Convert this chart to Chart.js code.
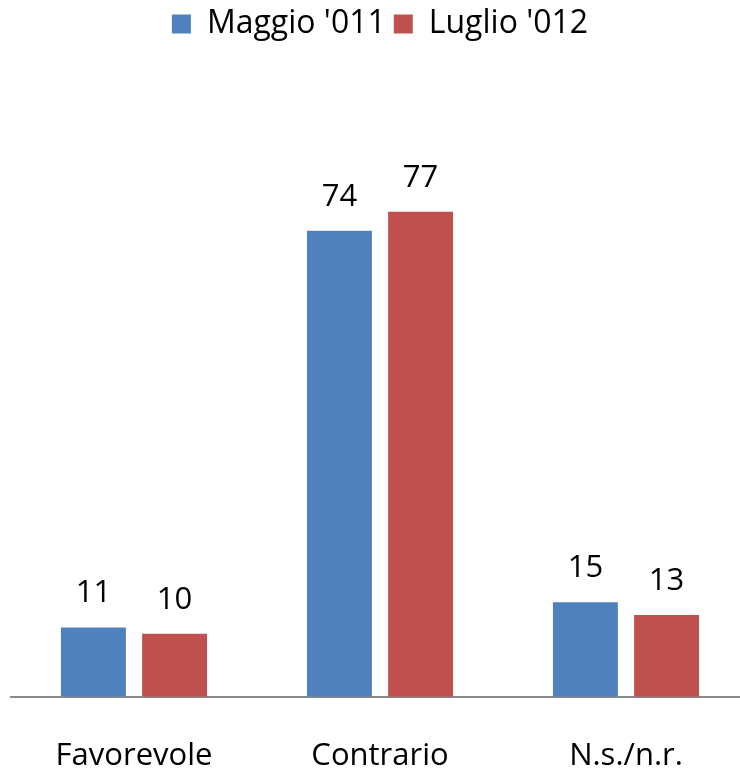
<!DOCTYPE html>
<html>
<head>
<meta charset="utf-8">
<script src="https://cdn.jsdelivr.net/npm/chart.js@4/dist/chart.umd.min.js"></script>
<style>
    html, body { margin: 0; padding: 0; background: #fff; overflow: hidden; }
    #wrap { width: 740px; height: 774px; overflow: hidden; }
</style>
</head>
<body>
<div id="wrap"><canvas id="poll" width="752" height="774"></canvas></div>
<script>
// chart values
let CATEGORIES = ["Favorevole", "Contrario", "N.s./n.r."]
let SERIES_NAMES = ["Maggio '011", "Luglio '012"]
let MAGGIO_2011 = [11, 74, 15]
let LUGLIO_2012 = [10, 77, 13]
let SERIES_COLORS = ["#4F81BD", "#C0504D"]

const FONT = "'Open Sans', 'Noto Sans', sans-serif"

// Writes the value above each bar (no datalabels plugin available offline)
const valueLabels = {
    id: "valueLabels",
    afterDatasetsDraw(chart) {
        const ctx = chart.ctx
        ctx.save()
        ctx.font = "31px " + FONT
        ctx.fillStyle = "#000"
        ctx.textAlign = "center"
        ctx.textBaseline = "middle"
        chart.data.datasets.forEach((ds, i) => {
            chart.getDatasetMeta(i).data.forEach((bar, j) => {
                ctx.fillText(ds.data[j], bar.x, bar.y - 34)
            })
        })
        ctx.restore()
    }
}

// Extra room under the legend so the plot starts lower, like the original
const legendGap = {
    id: "legendGap",
    afterInit(chart) {
        const fit = chart.legend.fit
        chart.legend.fit = function () {
            fit.call(this)
            this.height += 17
        }
    }
}

window.onload = (event) => {
    const chartCanvas = document.getElementById("poll").getContext("2d")
    const chart = new Chart(chartCanvas, {
        type: "bar",
        data: {
            labels: CATEGORIES,
            datasets: [
                { label: SERIES_NAMES[0], data: MAGGIO_2011, backgroundColor: SERIES_COLORS[0] },
                { label: SERIES_NAMES[1], data: LUGLIO_2012, backgroundColor: SERIES_COLORS[1] }
            ]
        },
        options: {
            responsive: false,
            animation: false,
            categoryPercentage: 0.66,
            barPercentage: 0.8,
            layout: { padding: { left: 11, right: 3, top: 0, bottom: -42 } },
            plugins: {
                tooltip: { enabled: false },
                legend: {
                    position: "top",
                    labels: {
                        boxWidth: 19,
                        boxHeight: 19,
                        padding: 8,
                        color: "#000",
                        font: { size: 32, family: FONT }
                    }
                }
            },
            scales: {
                x: {
                    grid: { display: false, drawTicks: false },
                    border: { display: true, color: "#8a8a8a", width: 2 },
                    ticks: { color: "#000", padding: 41, font: { size: 31, family: FONT } }
                },
                y: {
                    display: false,
                    min: 0,
                    max: 100
                }
            }
        },
        plugins: [valueLabels, legendGap]
    })
}
</script>
</body>
</html>
